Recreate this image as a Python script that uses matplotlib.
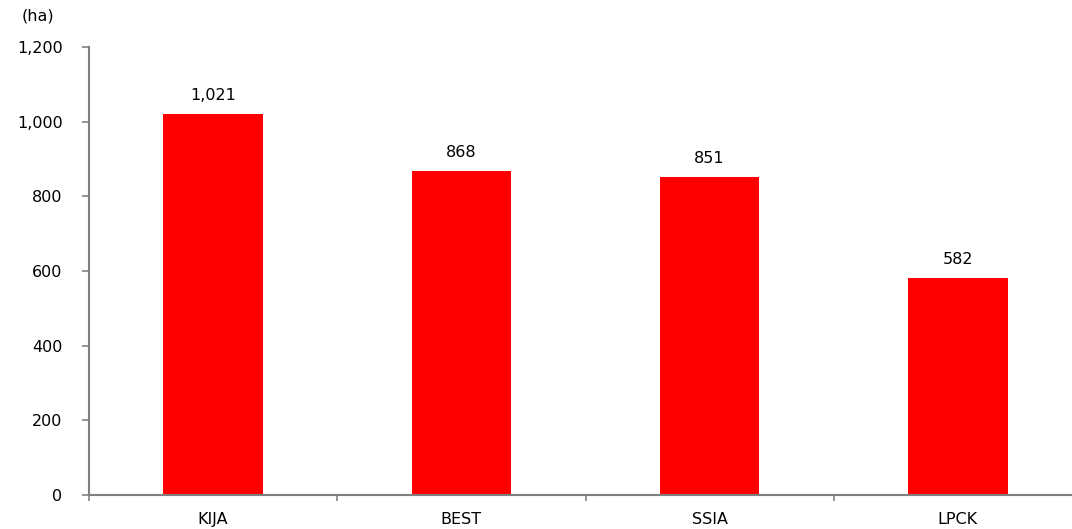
import matplotlib.pyplot as plt
from matplotlib.ticker import FuncFormatter

companies = ["KIJA", "BEST", "SSIA", "LPCK"]
land_ha = [1021, 868, 851, 582]
y_ticks = [0, 200, 400, 600, 800, 1000, 1200]

FS = 11.5
plt.rcParams["font.family"] = ["DejaVu Sans"]
fig = plt.figure(figsize=(10.72, 5.29), dpi=100)
ax = fig.add_axes([89 / 1072, 34 / 529, 993 / 1072, 448 / 529])

xs = list(range(len(companies)))
ax.bar(xs, land_ha, width=0.4, color="#ff0000", zorder=2)
for x, v in zip(xs, land_ha):
    ax.annotate(f"{v:,}", (x, v), xytext=(0, 8), textcoords="offset points",
                ha="center", va="bottom", fontsize=FS)

ax.set_xlim(-0.5, len(companies) - 0.5)
ax.set_ylim(0, 1200)
ax.set_yticks(y_ticks)
ax.yaxis.set_major_formatter(FuncFormatter(lambda v, p: f"{int(v):,}"))
ax.set_xticks([i - 0.5 for i in range(len(companies) + 1)])
ax.set_xticklabels([])
ax.set_xticks(xs, minor=True)
ax.set_xticklabels(companies, minor=True)
ax.tick_params(axis="x", which="minor", length=0, pad=12, labelsize=FS)
ax.tick_params(axis="x", which="major", length=4, color="#808080", width=1.2)
ax.tick_params(axis="y", length=5, color="#808080", width=1.2, labelsize=FS, pad=14)

for s in ["top", "right"]:
    ax.spines[s].set_visible(False)
for s in ["left", "bottom"]:
    ax.spines[s].set_color("#808080")
    ax.spines[s].set_linewidth(1.5)

fig.text(22 / 1072, 1 - 16 / 529, "(ha)", fontsize=FS, va="center")

fig.savefig("out.png", dpi=100)
